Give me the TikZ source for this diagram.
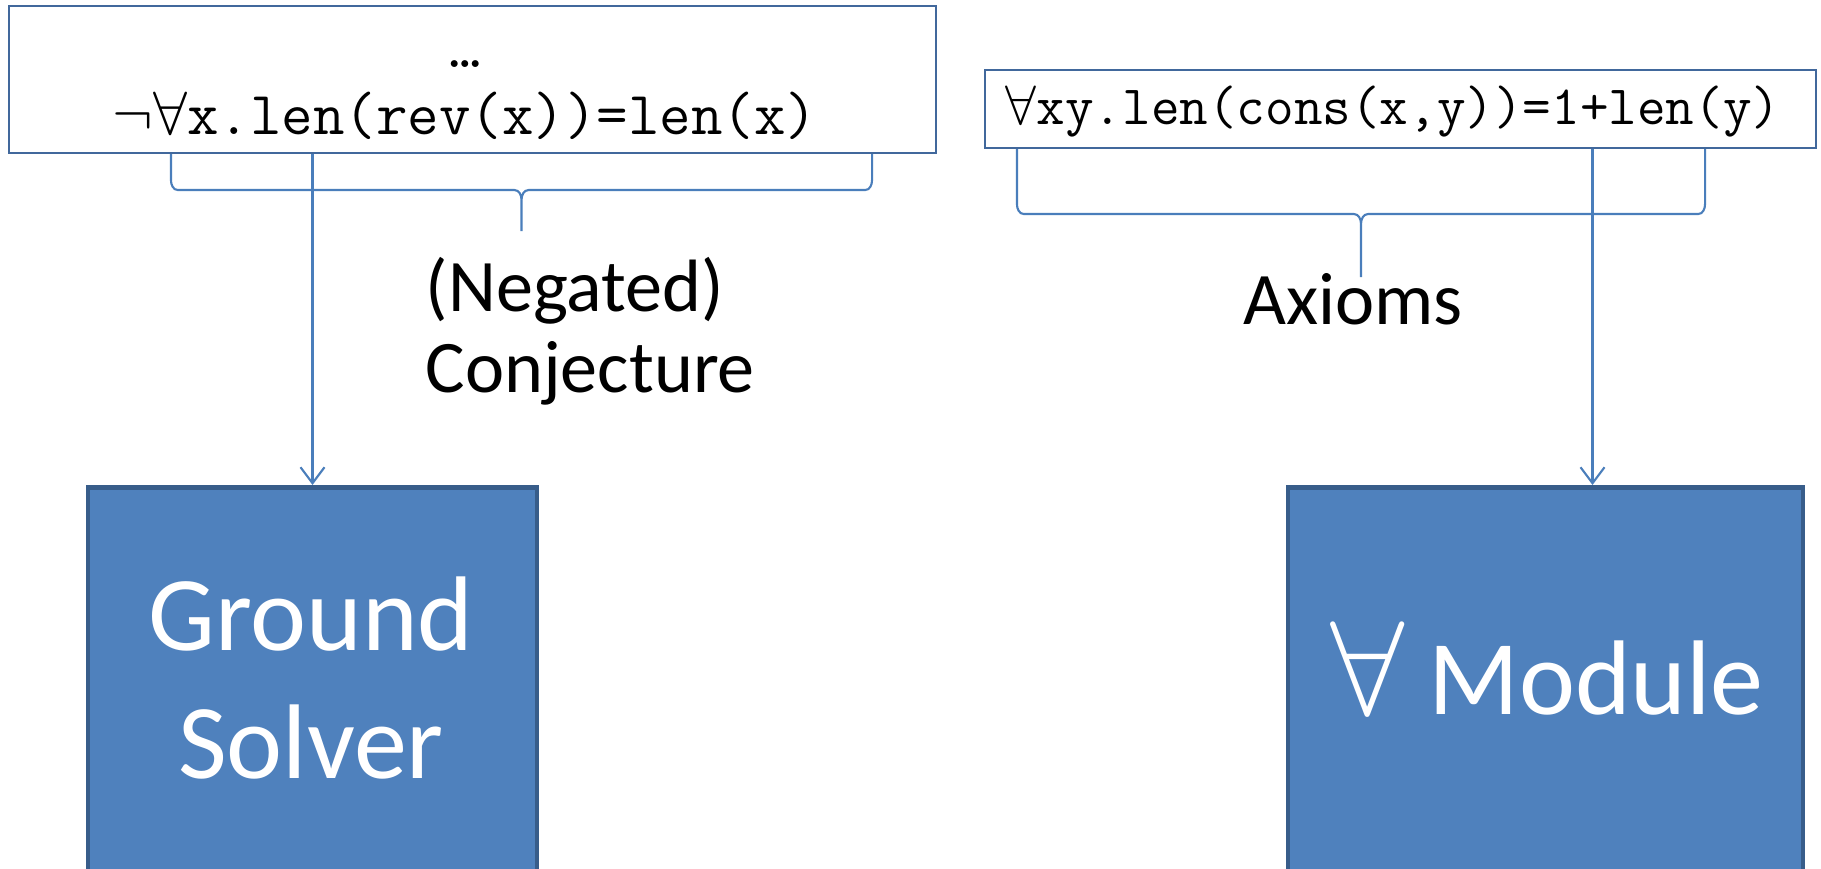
\documentclass[tikz,border=0pt]{standalone}
\usepackage{fix-cm}
\usepackage{fontspec}
\setmainfont{Carlito}
\usetikzlibrary{arrows.meta,positioning,calc}
\definecolor{boxblue}{HTML}{4F81BD}
\definecolor{boxedge}{HTML}{385D8A}
\definecolor{linkblue}{HTML}{4A7EBB}
\definecolor{frameblue}{HTML}{41689C}

% square brace under a box: start, end, arm length, tip length (cm)
\newcommand{\bracelink}[4]{%
  \draw [brc] let \p1=(#1), \p2=(#2) in
    (\p1) -- ++(0,{-#3+0.1}) to[out=-90,in=180] ++(0.07,-0.1)
    -- ({(\x1+\x2)/2-0.07cm},{\y1-#3cm}) to[out=0,in=90] ++(0.07,-0.1) -- ++(0,{-#4+0.1})
    ({(\x1+\x2)/2},{\y1-#3cm-0.1cm}) to[out=90,in=180] ++(0.07,0.1)
    -- ({\x2-0.07cm},{\y1-#3cm}) to[out=0,in=-90] ++(0.07,0.1) -- (\p2);}

\begin{document}
\begin{tikzpicture}
                \tikzstyle{every node}+=[inner sep=0pt]
                \tikzstyle{formula}=[rectangle, draw=frameblue, line width=0.6pt]
                \tikzstyle{solver}=[rectangle, draw=boxedge, fill=boxblue, line width=1.4pt, minimum height=4.3cm, anchor=north]
                \tikzstyle{solvertext}=[text=white, align=center, font=\fontsize{30.2}{36.4}\selectfont]
                \tikzstyle{remark}=[font=\fontsize{21.1}{23}\selectfont]
                \tikzstyle{feed}=[draw=linkblue, line width=0.6pt, -{Straight Barb[length=1.6mm,width=2.4mm]}]
                \tikzstyle{brc}=[draw=linkblue, line width=0.6pt]
                \useasboundingbox (0,0) rectangle (18.21,-8.69);
                % formula boxes on top
                \node [formula, minimum width=9.27cm, minimum height=1.47cm] (conj) at (4.725,-0.795) {};
                \node [align=center, anchor=south, font=\ttfamily\fontsize{17.4}{19}\selectfont] (conjtxt) at (4.65,-1.40) {…\\$\neg\forall$x.len(rev(x))=len(x)};
                \node [formula, minimum width=8.31cm, minimum height=0.78cm] (axm) at (14.005,-1.09) {};
                \node [anchor=base, font=\ttfamily\fontsize{15.8}{17}\selectfont] (axmtxt) at (13.93,-1.25) {$\forall$xy.len(cons(x,y))=1+len(y)};
                % the two solver blocks
                \node [solver, minimum width=4.49cm] (ground) at (3.125,-4.85) {};
                \node [solvertext] (groundtxt) at (3.11,-6.78) {Ground\\Solver};
                \node [solver, minimum width=5.15cm] (modl) at (15.455,-4.85) {};
                \node [solvertext, anchor=base] (modltxt) at (15.47,-7.14) {{\fontsize{38}{38}\selectfont$\forall$} Module};
                % braces and their labels
                \bracelink{[xshift=1.63cm]conj.south west}{[xshift=-0.65cm]conj.south east}{0.36}{0.41}
                \node [remark, align=left, anchor=north west] (neg) at (4.25,-2.57) {(Negated)\\Conjecture};
                \bracelink{[xshift=0.33cm]axm.south west}{[xshift=-1.12cm]axm.south east}{0.65}{0.63}
                \node [remark, anchor=base] (axlbl) at (13.53,-3.25) {Axioms};
                % inputs
                \draw [feed] (ground.north |- conj.south) -- (ground.north);
                \draw [feed] ([xshift=4.7mm]modl.north |- axm.south) -- ([xshift=4.7mm]modl.north);
\end{tikzpicture}
\end{document}
